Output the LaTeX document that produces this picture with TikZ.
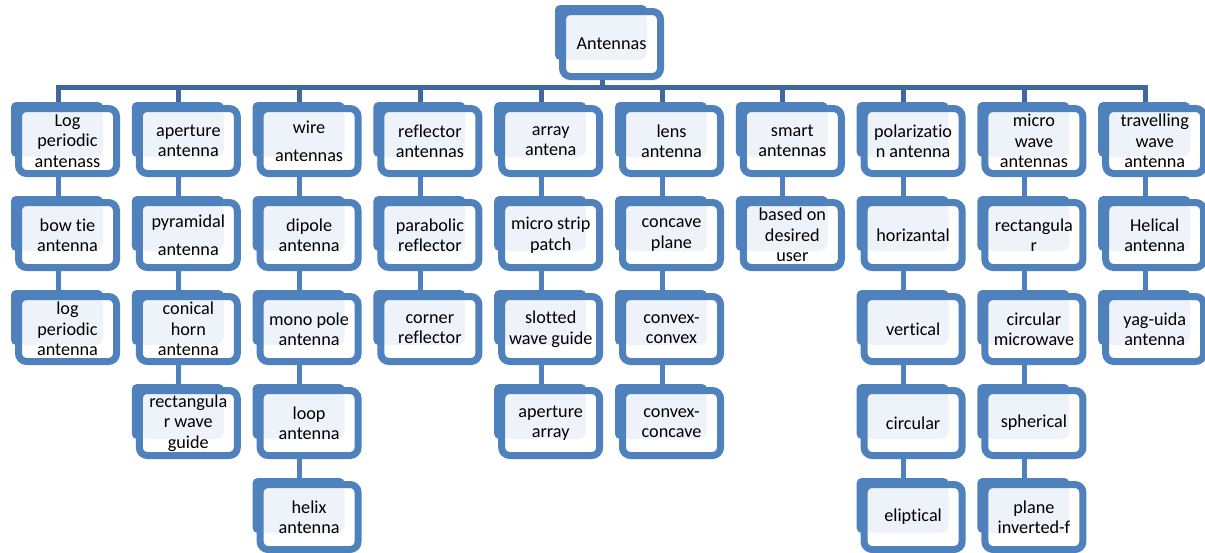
\documentclass[tikz,border=0pt]{standalone}
\usepackage{fontspec}
\setmainfont{Carlito}[Ligatures=CommonOff]
\usetikzlibrary{backgrounds}
\definecolor{boxblue}{RGB}{79,129,189}
\definecolor{busblue}{RGB}{64,104,156}
\definecolor{textfill}{RGB}{238,242,249}
\tikzset{
  box/.style={draw=boxblue,line width=7pt,fill=white,rounded corners=8pt,
    minimum width=98pt,minimum height=65pt,inner sep=0pt,align=center,
    font=\fontsize{18.2}{20.5}\selectfont,
    path picture={\fill[textfill](path picture bounding box.north west)
      rectangle([xshift=-13.5pt,yshift=16.5pt]path picture bounding box.south east);}},
  back/.style={fill=boxblue,rounded corners=5pt},
  stem/.style={draw=boxblue,line width=5pt},
  bus/.style={draw=busblue,line width=5pt}
}
\begin{document}
\begin{tikzpicture}[x=1pt,y=-1pt]
  \useasboundingbox(0,0)rectangle(1205,552);
  \node[box](ant)at(611.5,44){Antennas};
  \coordinate(bus)at(602,87.5);
  \foreach \n/\c/\r/\t in {
    log1/0/0/Log\\periodic\\antenass, log2/0/1/bow tie\\antenna, log3/0/2/log\\periodic\\antenna,
    aper1/1/0/aperture\\antenna, aper2/1/1/pyramidal\\[7.5pt]antenna, aper3/1/2/conical\\horn\\antenna,
    aper4/1/3/rectangula\\r wave\\guide,
    wire1/2/0/wire\\[7.5pt]antennas, wire2/2/1/dipole\\antenna, wire3/2/2/mono pole\\antenna,
    wire4/2/3/loop\\antenna, wire5/2/4/helix\\antenna,
    refl1/3/0/reflector\\antennas, refl2/3/1/parabolic\\reflector, refl3/3/2/corner\\reflector,
    arr1/4/0/array\\antena, arr2/4/1/micro strip\\patch, arr3/4/2/slotted\\wave guide, arr4/4/3/aperture\\array,
    lens1/5/0/lens\\antenna, lens2/5/1/concave\\plane, lens3/5/2/convex-\\convex, lens4/5/3/convex-\\concave,
    smart1/6/0/smart\\antennas, smart2/6/1/based on\\desired\\user,
    pol1/7/0/polarizatio\\n antenna, pol2/7/1/horizantal, pol3/7/2/vertical, pol4/7/3/circular, pol5/7/4/eliptical,
    mic1/8/0/micro\\wave\\antennas, mic2/8/1/rectangula\\r, mic3/8/2/circular\\microwave, mic4/8/3/spherical,
    mic5/8/4/plane\\inverted-f,
    trav1/9/0/travelling\\wave\\antenna, trav2/9/1/Helical\\antenna, trav3/9/2/yag-uida\\antenna}
    \node[box](\n)at({67.5+120.8*\c},{141+94*\r}){\t};
  \begin{scope}[on background layer]
    \draw[bus]([xshift=-9.5pt]ant.center)--(bus);
    \foreach \n in {log1,aper1,wire1,refl1,arr1,lens1,smart1,pol1,mic1,trav1}
      \draw[bus]([xshift=-9.5pt]\n.center)|-(bus);
    \foreach \a/\b in {log1/log2,log2/log3,aper1/aper2,aper2/aper3,aper3/aper4,
      wire1/wire2,wire2/wire3,wire3/wire4,wire4/wire5,refl1/refl2,refl2/refl3,
      arr1/arr2,arr2/arr3,arr3/arr4,lens1/lens2,lens2/lens3,lens3/lens4,smart1/smart2,
      pol1/pol2,pol2/pol3,pol3/pol4,pol4/pol5,mic1/mic2,mic2/mic3,mic3/mic4,mic4/mic5,
      trav1/trav2,trav2/trav3}
      \draw[stem]([xshift=-9.5pt]\a.center)--([xshift=-9.5pt]\b.center);
    \foreach \n in {ant,log1,log2,log3,aper1,aper2,aper3,aper4,wire1,wire2,wire3,wire4,wire5,
      refl1,refl2,refl3,arr1,arr2,arr3,arr4,lens1,lens2,lens3,lens4,smart1,smart2,
      pol1,pol2,pol3,pol4,pol5,mic1,mic2,mic3,mic4,mic5,trav1,trav2,trav3}
      \fill[back]([xshift=-4pt,yshift=3pt]\n.north west)rectangle([xshift=-17pt,yshift=20pt]\n.south east);
  \end{scope}
\end{tikzpicture}
\end{document}
